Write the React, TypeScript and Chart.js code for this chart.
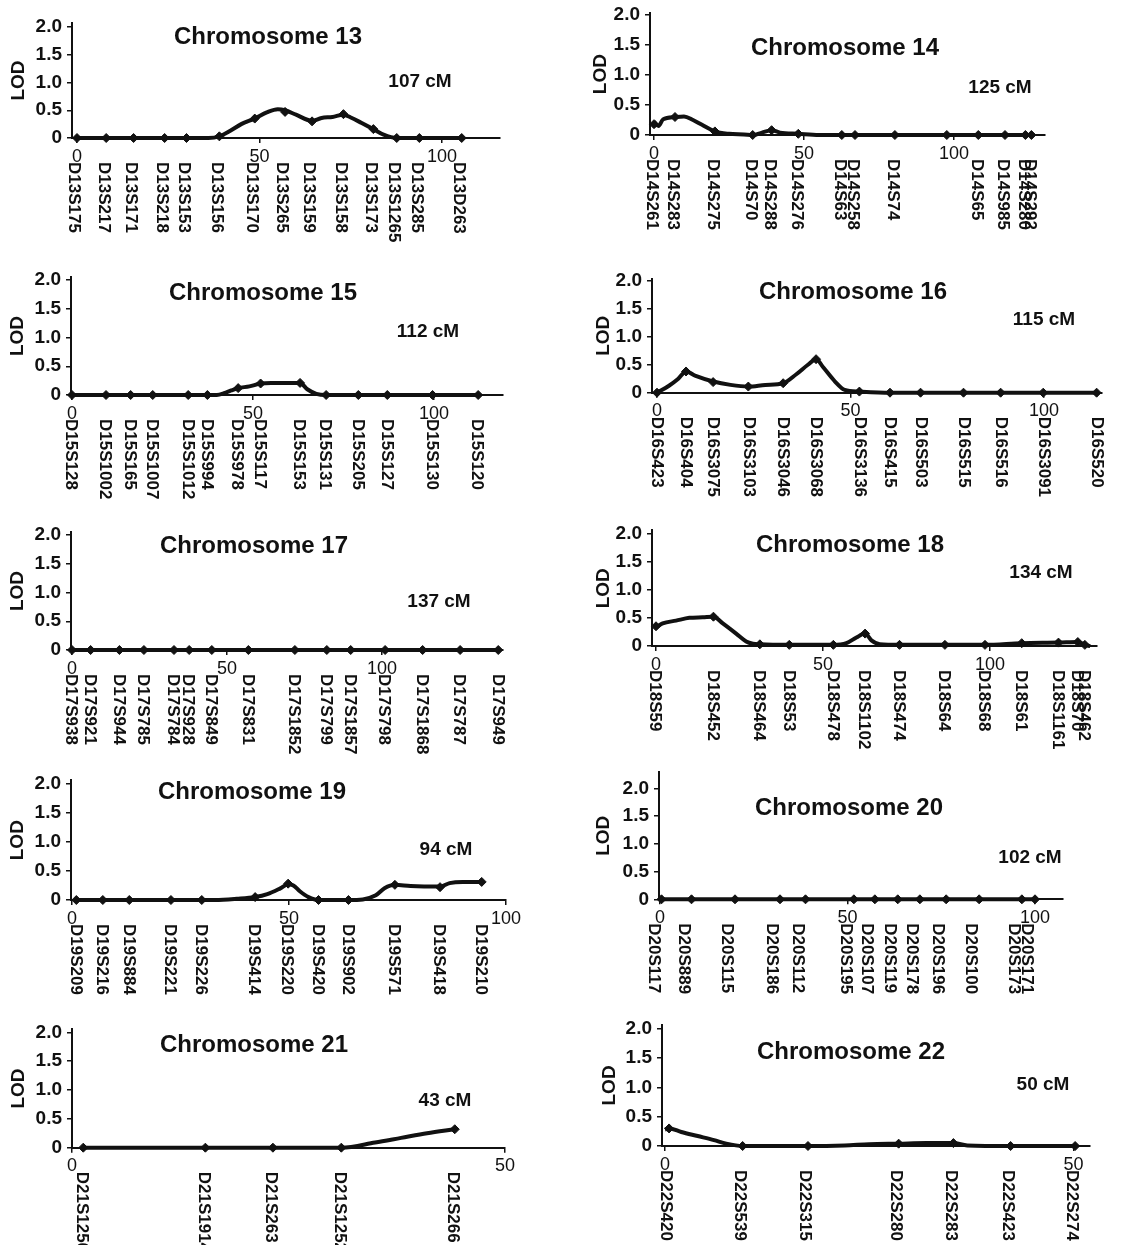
import React, { useEffect, useRef } from 'react';
import { Chart, registerables } from 'chart.js';

Chart.register(...registerables);

const FONT = "'Liberation Sans', Arial, Helvetica, sans-serif";
const INK = '#111111';

const LOD_TICKS = [0, 0.5, 1.0, 1.5, 2.0];
const CM_TICKS = [0, 50, 100];

// ---------- Chromosome 13 ----------
const chr13Names = ['D13S175', 'D13S217', 'D13S171', 'D13S218', 'D13S153', 'D13S156', 'D13S170', 'D13S265', 'D13S159', 'D13S158', 'D13S173', 'D13S1265', 'D13S285', 'D13D263'];
const chr13MarkerCM = [0, 8, 15.5, 24, 30, 39, 48.7, 57, 64.4, 73, 81.2, 87.6, 93.8, 105.4];
const chr13MarkerLOD = [0, 0, 0, 0, 0, 0.03, 0.35, 0.47, 0.3, 0.43, 0.16, 0, 0, 0];
const chr13CurveCM = [0, 36, 39, 42, 45, 48.7, 52, 55, 57, 60, 64.4, 67, 70, 73, 75, 78, 81.2, 84, 87.6, 105.4];
const chr13CurveLOD = [0, 0, 0.03, 0.13, 0.25, 0.35, 0.46, 0.52, 0.5, 0.42, 0.31, 0.36, 0.38, 0.42, 0.37, 0.27, 0.16, 0.06, 0, 0];

// ---------- Chromosome 14 ----------
const chr14Names = ['D14S261', 'D14S283', 'D14S275', 'D14S70', 'D14S288', 'D14S276', 'D14S63', 'D14S258', 'D14S74', '', 'D14S65', 'D14S985', 'D14S280', 'D14S292'];
const chr14MarkerCM = [0, 7, 20.3, 32.9, 39.2, 48.1, 62.6, 67, 80.3, 97.6, 108.1, 117, 123.8, 125.8];
const chr14MarkerLOD = [0.18, 0.3, 0.06, 0, 0.08, 0.02, 0, 0, 0, 0, 0, 0, 0, 0];
const chr14CurveCM = [0, 1.5, 3, 7, 10, 13, 16, 20.3, 25, 30, 33, 36, 39.2, 42, 48.1, 55, 62.6, 125.8];
const chr14CurveLOD = [0.22, 0.15, 0.26, 0.3, 0.31, 0.25, 0.17, 0.06, 0.02, 0.01, 0, 0.04, 0.08, 0.04, 0.02, 0, 0, 0];

// ---------- Chromosome 15 ----------
const chr15Names = ['D15S128', 'D15S1002', 'D15S165', 'D15S1007', 'D15S1012', 'D15S994', 'D15S978', 'D15S117', 'D15S153', 'D15S131', 'D15S205', 'D15S127', 'D15S130', 'D15S120'];
const chr15MarkerCM = [0, 9.4, 16.2, 22.3, 32.1, 37.4, 45.9, 52.1, 63, 70.2, 79.1, 87.1, 99.6, 112.2];
const chr15MarkerLOD = [0, 0, 0, 0, 0, 0, 0.12, 0.2, 0.21, 0, 0, 0, 0, 0];
const chr15CurveCM = [0, 40, 42, 44, 45.9, 49, 52.1, 55, 60, 63, 65, 67.5, 70.2, 112.2];
const chr15CurveLOD = [0, 0, 0.03, 0.08, 0.12, 0.15, 0.2, 0.21, 0.21, 0.21, 0.1, 0.02, 0, 0];

// ---------- Chromosome 16 ----------
const chr16Names = ['D16S423', 'D16S404', 'D16S3075', 'D16S3103', 'D16S3046', 'D16S3068', 'D16S3136', 'D16S415', 'D16S503', 'D16S515', 'D16S516', 'D16S3091', 'D16S520'];
const chr16MarkerCM = [0, 7.5, 14.5, 23.6, 32.6, 41.1, 52.3, 60.2, 68.1, 79.2, 88.8, 99.8, 113.6];
const chr16MarkerLOD = [0, 0.38, 0.19, 0.11, 0.17, 0.6, 0.02, 0, 0, 0, 0, 0, 0];
const chr16CurveCM = [0, 3, 5.5, 7.5, 10, 14.5, 19, 23.6, 28, 32.6, 36, 39, 41.1, 43, 46, 48.5, 52.3, 60.2, 113.6];
const chr16CurveLOD = [0, 0.12, 0.25, 0.38, 0.3, 0.2, 0.14, 0.11, 0.14, 0.17, 0.33, 0.5, 0.6, 0.45, 0.2, 0.05, 0.02, 0, 0];

// ---------- Chromosome 17 ----------
const chr17Names = ['D17S938', 'D17S921', 'D17S944', 'D17S785', 'D17S784', 'D17S928', 'D17S849', 'D17S831', 'D17S1852', 'D17S799', 'D17S1857', 'D17S798', 'D17S1868', 'D17S787', 'D17S949'];
const chr17MarkerCM = [0, 6, 15.3, 23.2, 32.9, 37.8, 45.1, 56.9, 71.9, 82.2, 89.9, 101, 113.1, 125.2, 137.5];
const chr17MarkerLOD = [0, 0, 0, 0, 0, 0, 0, 0, 0, 0, 0, 0, 0, 0, 0];
const chr17CurveCM = [0, 137.5];
const chr17CurveLOD = [0, 0];

// ---------- Chromosome 18 ----------
const chr18Names = ['D18S59', 'D18S452', 'D18S464', 'D18S53', 'D18S478', 'D18S1102', 'D18S474', 'D18S64', 'D18S68', 'D18S61', 'D18S1161', 'D18S70', 'D18S462'];
const chr18MarkerCM = [0, 17.2, 31.1, 39.9, 53.1, 62.6, 72.9, 86.5, 98.5, 109.5, 120.5, 126.3, 128.4];
const chr18MarkerLOD = [0.35, 0.52, 0.03, 0.02, 0.02, 0.22, 0.02, 0.02, 0.02, 0.05, 0.06, 0.07, 0.02];
const chr18CurveCM = [0, 2, 6, 10, 14, 17.2, 20, 24, 27, 29, 31.1, 39.9, 53.1, 57, 60, 62.6, 64.5, 67, 72.9, 86.5, 98.5, 109.5, 120.5, 126.3, 128.4, 130];
const chr18CurveLOD = [0.33, 0.4, 0.45, 0.5, 0.51, 0.52, 0.4, 0.22, 0.08, 0.04, 0.03, 0.02, 0.02, 0.05, 0.15, 0.22, 0.1, 0.03, 0.02, 0.02, 0.02, 0.05, 0.06, 0.07, 0.02, 0];

// ---------- Chromosome 19 ----------
const chr19Names = ['D19S209', 'D19S216', 'D19S884', 'D19S221', 'D19S226', 'D19S414', 'D19S220', 'D19S420', 'D19S902', 'D19S571', 'D19S418', 'D19S210'];
const chr19MarkerCM = [1, 7.1, 13.2, 22.8, 29.9, 42.2, 49.8, 56.8, 63.7, 74.4, 84.8, 94.4];
const chr19MarkerLOD = [0, 0, 0, 0, 0, 0.05, 0.28, 0, 0, 0.26, 0.22, 0.31];
const chr19CurveCM = [1, 33, 38, 42.2, 45, 48, 49.8, 51, 52.5, 54.5, 56.8, 63.7, 67, 70, 72, 74.4, 78, 84.8, 87, 90, 94.4];
const chr19CurveLOD = [0, 0, 0.02, 0.05, 0.1, 0.2, 0.27, 0.25, 0.15, 0.05, 0, 0, 0.01, 0.08, 0.2, 0.26, 0.24, 0.23, 0.29, 0.31, 0.31];

// ---------- Chromosome 20 ----------
const chr20Names = ['D20S117', 'D20S889', 'D20S115', 'D20S186', 'D20S112', 'D20S195', 'D20S107', 'D20S119', 'D20S178', 'D20S196', 'D20S100', 'D20S173', 'D20S171'];
const chr20MarkerCM = [0.4, 8.4, 20, 32, 38.8, 51.7, 57.3, 63.4, 69.3, 76.3, 85.1, 96.5, 100];
const chr20MarkerLOD = [0, 0, 0, 0, 0, 0, 0, 0, 0, 0, 0, 0, 0];
const chr20CurveCM = [0.4, 100];
const chr20CurveLOD = [0, 0];

// ---------- Chromosome 21 ----------
const chr21Names = ['D21S1256', 'D21S1914', 'D21S263', 'D21S1252', 'D21S266'];
const chr21MarkerCM = [1.3, 15.4, 23.2, 31.1, 44.2];
const chr21MarkerLOD = [0, 0, 0, 0, 0.32];
const chr21CurveCM = [1.3, 31.1, 35, 38, 41, 44.2];
const chr21CurveLOD = [0, 0, 0.09, 0.17, 0.25, 0.32];

// ---------- Chromosome 22 ----------
const chr22Names = ['D22S420', 'D22S539', 'D22S315', 'D22S280', 'D22S283', 'D22S423', 'D22S274'];
const chr22MarkerCM = [0.5, 9.5, 17.5, 28.6, 35.3, 42.3, 50.2];
const chr22MarkerLOD = [0.3, 0, 0, 0.04, 0.05, 0, 0];
const chr22CurveCM = [0, 0.5, 2, 4, 6, 7.5, 9.5, 17.5, 22, 25, 28.6, 32, 35.3, 37, 42.3, 50.2];
const chr22CurveLOD = [0.28, 0.3, 0.24, 0.17, 0.1, 0.04, 0, 0, 0.01, 0.03, 0.04, 0.05, 0.05, 0.01, 0, 0];

type Layout = {
  column: number;
  axisX: number; endX: number; zeroX: number; ppc: number;
  y2: number; y0: number; yMax: number;
  titleX: number; titleY: number; lenX: number; lenY: number;
  labelDx: number; lodGap: number;
};

type PanelDef = {
  title: string;
  length: string;
  names: string[];
  markerCM: number[];
  markerLOD: number[];
  curveCM: number[];
  curveLOD: number[];
  layout: Layout;
};

const PANELS: PanelDef[] = [
  { title: 'Chromosome 13', length: '107 cM', names: chr13Names, markerCM: chr13MarkerCM, markerLOD: chr13MarkerLOD, curveCM: chr13CurveCM, curveLOD: chr13CurveLOD,
    layout: { column: 0, axisX: 72, endX: 500, zeroX: 77, ppc: 3.65, y2: 27, y0: 138, yMax: 2.07, titleX: 268, titleY: 37, lenX: 420, lenY: 82, labelDx: -3, lodGap: 53 } },
  { title: 'Chromosome 14', length: '125 cM', names: chr14Names, markerCM: chr14MarkerCM, markerLOD: chr14MarkerLOD, curveCM: chr14CurveCM, curveLOD: chr14CurveLOD,
    layout: { column: 1, axisX: 650, endX: 1045, zeroX: 654, ppc: 3.0, y2: 15, y0: 135, yMax: 2.03, titleX: 845, titleY: 48, lenX: 1000, lenY: 88, labelDx: -2, lodGap: 49 } },
  { title: 'Chromosome 15', length: '112 cM', names: chr15Names, markerCM: chr15MarkerCM, markerLOD: chr15MarkerLOD, curveCM: chr15CurveCM, curveLOD: chr15CurveLOD,
    layout: { column: 0, axisX: 71, endX: 503, zeroX: 72, ppc: 3.62, y2: 280, y0: 395, yMax: 2.05, titleX: 263, titleY: 293, lenX: 428, lenY: 332, labelDx: -1, lodGap: 53 } },
  { title: 'Chromosome 16', length: '115 cM', names: chr16Names, markerCM: chr16MarkerCM, markerLOD: chr16MarkerLOD, curveCM: chr16CurveCM, curveLOD: chr16CurveLOD,
    layout: { column: 1, axisX: 652, endX: 1102, zeroX: 657, ppc: 3.87, y2: 281, y0: 392.7, yMax: 2.04, titleX: 853, titleY: 292, lenX: 1044, lenY: 320, labelDx: 0, lodGap: 48 } },
  { title: 'Chromosome 17', length: '137 cM', names: chr17Names, markerCM: chr17MarkerCM, markerLOD: chr17MarkerLOD, curveCM: chr17CurveCM, curveLOD: chr17CurveLOD,
    layout: { column: 0, axisX: 71, endX: 503, zeroX: 72, ppc: 3.1, y2: 535, y0: 650, yMax: 2.05, titleX: 254, titleY: 546, lenX: 439, lenY: 602, labelDx: -1, lodGap: 53 } },
  { title: 'Chromosome 18', length: '134 cM', names: chr18Names, markerCM: chr18MarkerCM, markerLOD: chr18MarkerLOD, curveCM: chr18CurveCM, curveLOD: chr18CurveLOD,
    layout: { column: 1, axisX: 652, endX: 1097, zeroX: 656, ppc: 3.34, y2: 533.3, y0: 646, yMax: 2.05, titleX: 850, titleY: 545, lenX: 1041, lenY: 573, labelDx: -1, lodGap: 48 } },
  { title: 'Chromosome 19', length: '94 cM', names: chr19Names, markerCM: chr19MarkerCM, markerLOD: chr19MarkerLOD, curveCM: chr19CurveCM, curveLOD: chr19CurveLOD,
    layout: { column: 0, axisX: 71, endX: 506, zeroX: 72, ppc: 4.34, y2: 783.3, y0: 900, yMax: 2.05, titleX: 252, titleY: 792, lenX: 446, lenY: 850, labelDx: -1, lodGap: 53 } },
  { title: 'Chromosome 20', length: '102 cM', names: chr20Names, markerCM: chr20MarkerCM, markerLOD: chr20MarkerLOD, curveCM: chr20CurveCM, curveLOD: chr20CurveLOD,
    layout: { column: 1, axisX: 659, endX: 1063, zeroX: 660, ppc: 3.75, y2: 788.3, y0: 899.3, yMax: 2.29, titleX: 849, titleY: 808, lenX: 1030, lenY: 858, labelDx: -8, lodGap: 55 } },
  { title: 'Chromosome 21', length: '43 cM', names: chr21Names, markerCM: chr21MarkerCM, markerLOD: chr21MarkerLOD, curveCM: chr21CurveCM, curveLOD: chr21CurveLOD,
    layout: { column: 0, axisX: 72, endX: 505, zeroX: 72, ppc: 8.66, y2: 1032.3, y0: 1147.7, yMax: 2.05, titleX: 254, titleY: 1045, lenX: 445, lenY: 1101, labelDx: -2, lodGap: 53 } },
  { title: 'Chromosome 22', length: '50 cM', names: chr22Names, markerCM: chr22MarkerCM, markerLOD: chr22MarkerLOD, curveCM: chr22CurveCM, curveLOD: chr22CurveLOD,
    layout: { column: 1, axisX: 662, endX: 1090, zeroX: 665, ppc: 8.17, y2: 1029, y0: 1146, yMax: 2.07, titleX: 851, titleY: 1052, lenX: 1043, lenY: 1085, labelDx: -3, lodGap: 52 } },
];

const CANVAS_W = 573;

function LodPanel({ panel }: { panel: PanelDef }) {
  const ref = useRef<HTMLCanvasElement | null>(null);
  const L = panel.layout;
  const canvasLeft = L.column === 0 ? 0 : 573;
  const pxPerLod = (L.y0 - L.y2) / 2;
  const chartTop = L.y0 - L.yMax * pxPerLod;
  const canvasTop = Math.floor(chartTop - 24);
  const canvasHeight = Math.ceil(L.y0 + 124 - canvasTop);

  useEffect(() => {
    const canvas = ref.current;
    if (!canvas) return;
    const xMin = (L.axisX - L.zeroX) / L.ppc;
    const xMax = (L.endX - L.zeroX) / L.ppc;
    const yAxisWidth = L.axisX - canvasLeft;
    const xAxisHeight = canvasHeight - (L.y0 - canvasTop);
    const lodFont = 19;
    const lodPad = yAxisWidth - L.lodGap - (lodFont * 1.2) / 2;

    const textPlugin = {
      id: 'panelText',
      afterDraw(chart: any) {
        const ctx = chart.ctx as CanvasRenderingContext2D;
        const xs = chart.scales.x;
        const area = chart.chartArea;
        ctx.save();
        ctx.fillStyle = INK;
        ctx.textAlign = 'center';
        ctx.textBaseline = 'middle';
        ctx.font = `bold 24px ${FONT}`;
        ctx.fillText(panel.title, L.titleX - canvasLeft, L.titleY - canvasTop);
        ctx.font = `bold 19px ${FONT}`;
        ctx.fillText(panel.length, L.lenX - canvasLeft, L.lenY - canvasTop);
        ctx.font = `bold 17px ${FONT}`;
        ctx.textAlign = 'left';
        panel.names.forEach((name, i) => {
          if (!name) return;
          const x = xs.getPixelForValue(panel.markerCM[i]) + L.labelDx;
          ctx.save();
          ctx.translate(x, area.bottom + 24);
          ctx.rotate(Math.PI / 2);
          ctx.fillText(name, 0, 0);
          ctx.restore();
        });
        ctx.restore();
      },
    };

    const chart = new Chart(canvas, {
      type: 'line',
      data: {
        datasets: [
          {
            data: panel.curveCM.map((x, i) => ({ x, y: panel.curveLOD[i] })),
            borderColor: INK,
            borderWidth: 4,
            pointRadius: 0,
            cubicInterpolationMode: 'monotone',
            fill: false,
            clip: false,
            order: 2,
          } as any,
          {
            data: panel.markerCM.map((x, i) => ({ x, y: panel.markerLOD[i] })),
            showLine: false,
            pointStyle: 'rectRot',
            pointRadius: 4.5,
            pointBackgroundColor: INK,
            pointBorderColor: INK,
            pointBorderWidth: 1,
            clip: false,
            order: 1,
          } as any,
        ],
      },
      options: {
        responsive: false,
        animation: false,
        devicePixelRatio: 1,
        events: [],
        layout: {
          padding: {
            top: chartTop - canvasTop,
            right: canvasLeft + CANVAS_W - L.endX,
            left: 0,
            bottom: 0,
          },
        },
        plugins: {
          legend: { display: false },
          tooltip: { enabled: false },
          title: { display: false },
        },
        scales: {
          x: {
            type: 'linear',
            min: xMin,
            max: xMax,
            afterBuildTicks: (s: any) => {
              s.ticks = CM_TICKS.filter((v) => v <= xMax + 0.5).map((v) => ({ value: v }));
            },
            afterFit: (s: any) => {
              s.height = xAxisHeight;
            },
            grid: { display: true, drawOnChartArea: false, drawTicks: true, tickLength: 5, color: INK, lineWidth: 1.5 },
            border: { display: true, color: INK, width: 2 },
            ticks: {
              autoSkip: false,
              maxRotation: 0,
              minRotation: 0,
              padding: 3,
              color: INK,
              font: { family: FONT, size: 18 },
              callback: (v: any) => String(v),
            },
          },
          y: {
            type: 'linear',
            min: 0,
            max: L.yMax,
            afterBuildTicks: (s: any) => {
              s.ticks = LOD_TICKS.map((v) => ({ value: v }));
            },
            afterFit: (s: any) => {
              s.width = yAxisWidth;
            },
            grid: { display: true, drawOnChartArea: false, drawTicks: true, tickLength: 5, color: INK, lineWidth: 1.5 },
            border: { display: true, color: INK, width: 2 },
            title: {
              display: true,
              text: 'LOD',
              color: INK,
              font: { family: FONT, size: lodFont, weight: 'bold' },
              padding: { top: lodPad, bottom: 0 },
            },
            ticks: {
              autoSkip: false,
              padding: 5,
              color: INK,
              font: { family: FONT, size: 19, weight: 'bold' },
              callback: (v: any) => (Number(v) === 0 ? '0' : Number(v).toFixed(1)),
            },
          },
        },
      } as any,
      plugins: [textPlugin],
    });
    return () => chart.destroy();
  }, []);

  return (
    <canvas
      ref={ref}
      width={CANVAS_W}
      height={canvasHeight}
      style={{ position: 'absolute', left: canvasLeft, top: canvasTop, width: CANVAS_W, height: canvasHeight }}
    />
  );
}

export default function App() {
  return (
    <div
      style={{
        position: 'absolute',
        left: 0,
        top: 0,
        width: 1146,
        height: 1245,
        overflow: 'hidden',
        background: '#ffffff',
      }}
    >
      {PANELS.map((p) => (
        <LodPanel key={p.title} panel={p} />
      ))}
    </div>
  );
}
